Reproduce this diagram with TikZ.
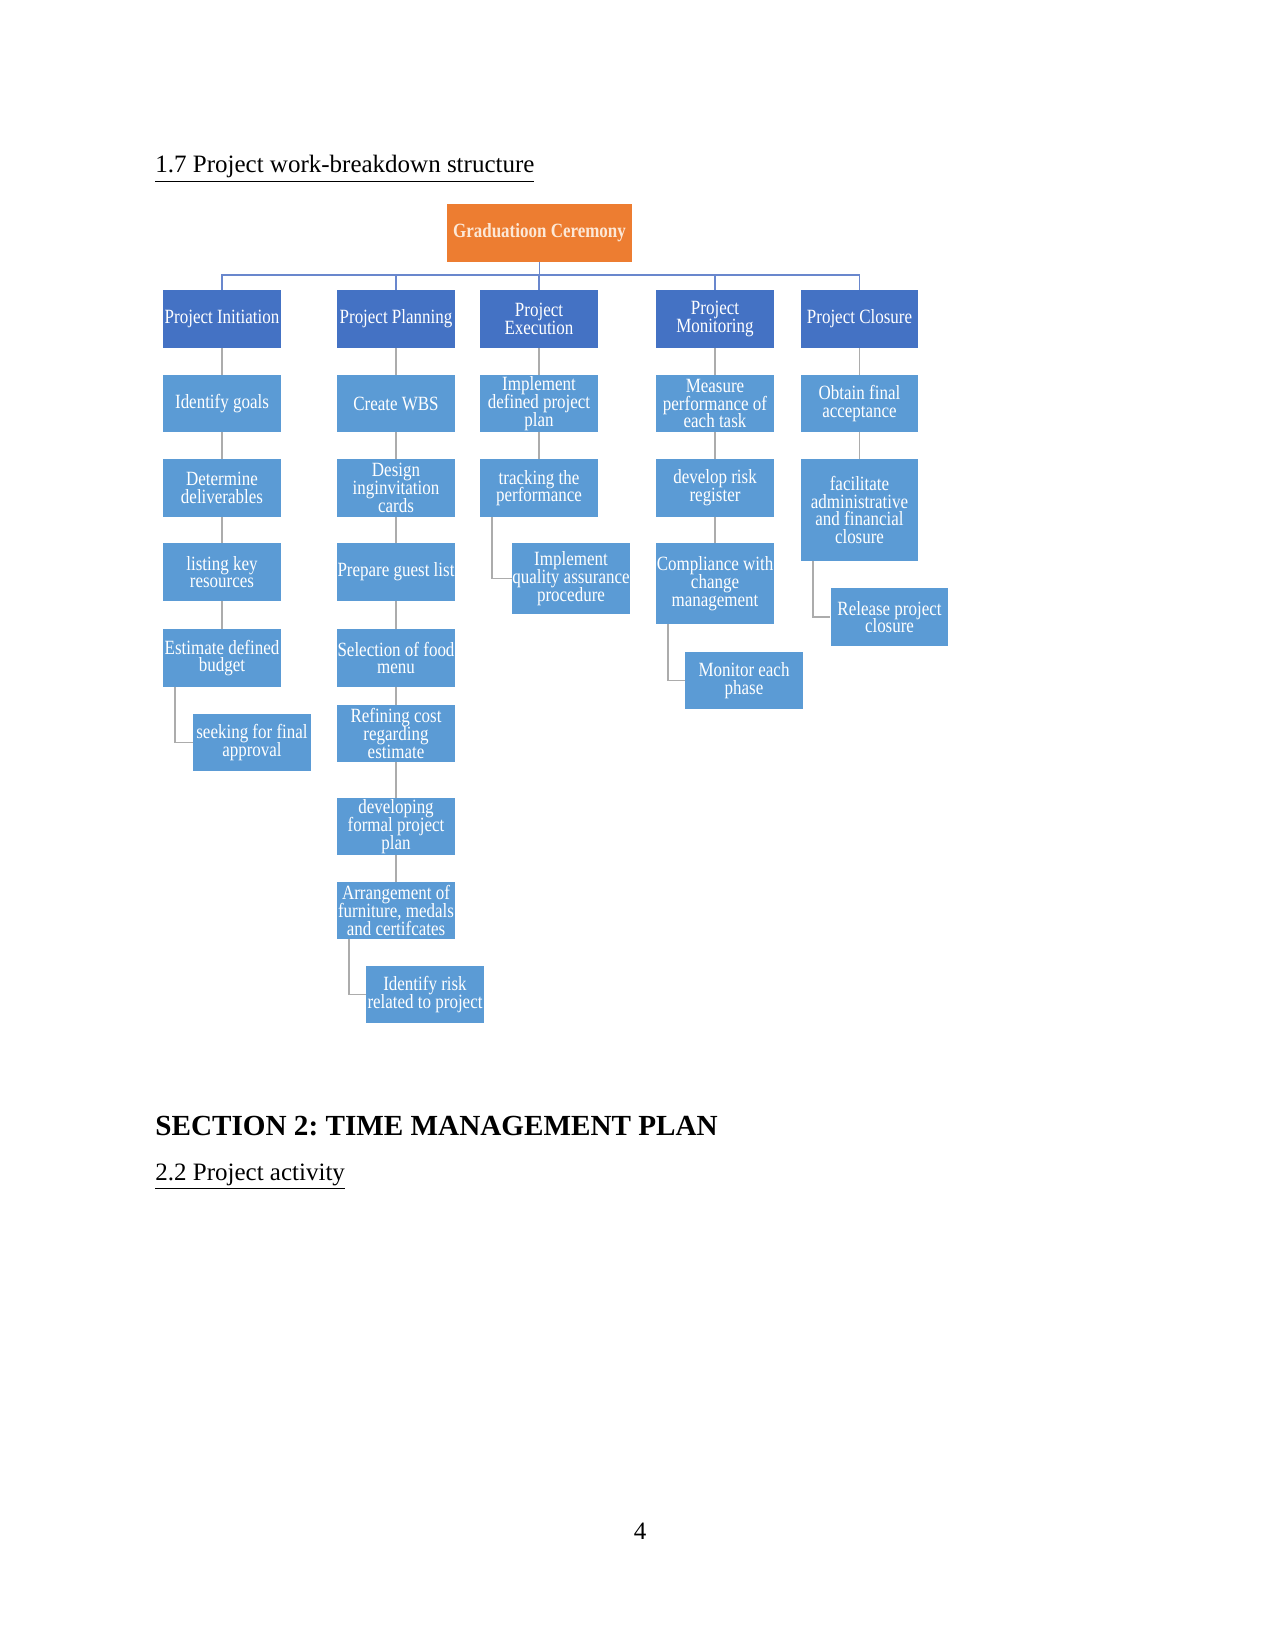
\documentclass[tikz,border=0pt]{standalone}
\usepackage{fontspec}
\setmainfont{Liberation Serif}
\newfontfamily\boxfont[FakeStretch=0.84]{Liberation Serif}
\newcommand\boxtext{\boxfont\fontsize{9.7}{8.5}\selectfont\lineskiplimit=-6pt\relax}
\usepackage{tikz}
\usetikzlibrary{positioning}
\definecolor{rootorange}{RGB}{237,125,49}
\definecolor{rootcream}{RGB}{252,232,215}
\definecolor{phaseblue}{RGB}{68,114,196}
\definecolor{taskblue}{RGB}{91,155,213}
\definecolor{linkgray}{RGB}{172,172,172}
\definecolor{busblue}{RGB}{105,135,205}
\frenchspacing

\begin{document}
\begin{tikzpicture}[x=0.48pt,y=-0.48pt,
  phase/.style={fill=phaseblue,text=white,inner sep=0pt,
        minimum width=56.6pt,minimum height=27.8pt,align=center,
        font=\boxtext},
  task/.style={phase,fill=taskblue,minimum height=27.4pt},
  link/.style={draw=linkgray,line width=0.9pt},
  bus/.style={draw=busblue,line width=0.9pt},
  pagetext/.style={anchor=base west,inner sep=0pt,font=\fontsize{12}{14}\selectfont}]
  \useasboundingbox (0,0) rectangle (1275,1651);

  % page text
  \node[pagetext] (wbstitle) at (155,173) {\underline{1.7 Project work-breakdown structure}};
  \node[pagetext,font=\bfseries\fontsize{14}{16}\selectfont] (sectitle) at (155,1135) {SECTION 2: TIME MANAGEMENT PLAN};
  \node[pagetext] (acttitle) at (155,1180) {\underline{2.2 Project activity}};
  \node[pagetext,anchor=base] (pagenum) at (640,1539) {4};

  % root
  \node[fill=rootorange,text=rootcream,inner sep=0pt,
        minimum width=88.8pt,minimum height=27.8pt,
        font=\boxtext\bfseries] (root) at (539.5,233) {Graduatioon Ceremony};

  % phases
  \node[phase] (init) at (222,319) {Project Initiation};
  \node[phase] (plan) at (396,319) {Project Planning};
  \node[phase] (exec) at (539,319) {Project\\Execution};
  \node[phase] (moni) at (715,319) {Project\\Monitoring};
  \node[phase] (clos) at (859.5,319) {Project Closure};

  \foreach \ph in {init,plan,exec,moni,clos}
    \draw[bus] (root.south) -- ++(0,13) -| (\ph.north);

  % initiation
  \node[task] (goals) at (222,403.5) {Identify goals};
  \node[task] (deliv) at (222,488) {Determine\\deliverables};
  \node[task] (resrc) at (222,572) {listing key\\resources};
  \node[task] (budget) at (222,658) {Estimate defined\\budget};
  \node[task] (approv) at (252,742.5) {seeking for final\\approval};

  % planning
  \node[task] (wbs) at (396,403.5) {Create WBS};
  \node[task] (cards) at (396,488) {Design\\inginvitation\\cards};
  \node[task] (guest) at (396,572) {Prepare guest list};
  \node[task] (food) at (396,658) {Selection of food\\menu};
  \node[task] (cost) at (396,733.5) {Refining cost\\regarding\\estimate};
  \node[task] (formal) at (396,826.5) {developing\\formal project\\plan};
  \node[task] (furn) at (396,910.5) {Arrangement of\\furniture, medals\\and certifcates};
  \node[task] (risk) at (425,994.5) {Identify risk\\related to project};

  % execution
  \node[task] (implem) at (539,403.5) {Implement\\defined project\\plan};
  \node[task] (track) at (539,488) {tracking the\\performance};
  \node[task,minimum height=34pt] (quality) at (571,578.5) {Implement\\quality assurance\\procedure};

  % monitoring
  \node[task] (measure) at (715,403.5) {Measure\\performance of\\each task};
  \node[task] (riskreg) at (715,488) {develop risk\\register};
  \node[task,minimum height=38.9pt] (change) at (715,583.5) {Compliance with\\change\\management};
  \node[task] (phase) at (744,680.5) {Monitor each\\phase};

  % closure
  \node[task] (accept) at (859.5,403.5) {Obtain final\\acceptance};
  \node[task,minimum height=49pt] (admin) at (859.5,510) {facilitate\\administrative\\and financial\\closure};
  \node[task] (release) at (889.5,617) {Release project\\closure};

  \foreach \a/\b in {init/goals,goals/deliv,deliv/resrc,resrc/budget,
                     plan/wbs,wbs/cards,cards/guest,guest/food,food/cost,cost/formal,formal/furn,
                     exec/implem,implem/track,
                     moni/measure,measure/riskreg,riskreg/change,
                     clos/accept,accept/admin}
    \draw[link] (\a.south) -- (\b.north);

  \foreach \a/\b in {budget/approv,furn/risk,track/quality,change/phase,admin/release}
    \draw[link] ([xshift=6pt]\a.south west) |- (\b.west);
\end{tikzpicture}
\end{document}
